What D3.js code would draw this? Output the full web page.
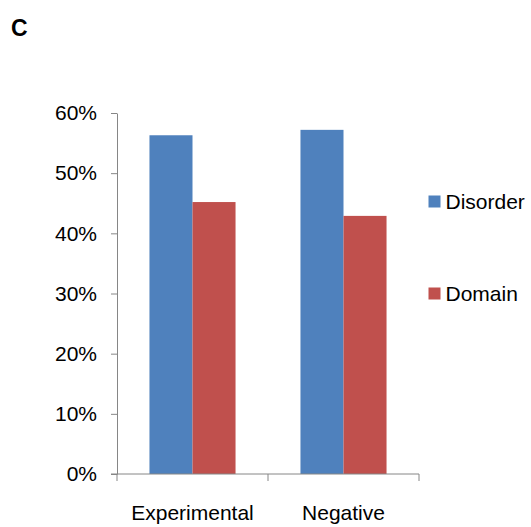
<!DOCTYPE html>
<html>
<head>
<meta charset="utf-8">
<script src="https://cdn.jsdelivr.net/npm/d3@7"></script>
<style>
  body { margin: 0; background: #fff; }
  svg { display: block; font-family: "Liberation Sans", Arial, sans-serif; }
</style>
</head>
<body>
<svg id="chart" width="531" height="527"></svg>
<script>
// Share of sequences per dataset falling in each class
const categories = ["Experimental", "Negative"];
const seriesNames = ["Disorder", "Domain"];
const disorderValues = [0.563, 0.572];
const domainValues = [0.452, 0.429];
const yTicks = [0, 0.1, 0.2, 0.3, 0.4, 0.5, 0.6];
const colors = ["#4F81BD", "#C0504D"];

const rows = categories.map((c, i) => ({
  category: c,
  values: [
    { series: seriesNames[0], value: disorderValues[i] },
    { series: seriesNames[1], value: domainValues[i] }
  ]
}));

const svg = d3.select("#chart");
const plotLeft = 117, plotRight = 419, plotTop = 113, plotBottom = 474;

const x0 = d3.scaleBand().domain(categories).range([plotLeft, plotRight]).padding(0);
const bw = x0.bandwidth();
const x1 = d3.scaleBand().domain(seriesNames)
  .range([bw * 0.215, bw * 0.785]).padding(0);
const y = d3.scaleLinear().domain([0, 0.6]).range([plotBottom, plotTop]);
const color = d3.scaleOrdinal().domain(seriesNames).range(colors);

// Panel letter
svg.append("text").attr("x", 11).attr("y", 36)
  .attr("font-size", 23).attr("font-weight", "bold").text("C");

// Bars
const groups = svg.append("g").selectAll("g").data(rows).join("g")
  .attr("transform", d => `translate(${x0(d.category)},0)`);
groups.selectAll("rect").data(d => d.values).join("rect")
  .attr("x", d => x1(d.series))
  .attr("width", x1.bandwidth())
  .attr("y", d => y(d.value))
  .attr("height", d => y(0) - y(d.value))
  .attr("fill", d => color(d.series));

// Y axis
const yAxis = svg.append("g").attr("transform", `translate(${plotLeft},0)`)
  .call(d3.axisLeft(y).tickValues(yTicks).tickFormat(d3.format(".0%"))
    .tickSize(6).tickSizeOuter(0).tickPadding(14));
yAxis.select(".domain").attr("stroke", "#868686");
yAxis.selectAll(".tick line").attr("stroke", "#868686");
yAxis.selectAll(".tick text").attr("font-size", 21).attr("fill", "#000")
  .attr("font-family", "'Liberation Sans', Arial, sans-serif");

// X axis with boundary tick marks between categories
const xAxisG = svg.append("g").attr("transform", `translate(0,${plotBottom})`);
xAxisG.append("line").attr("x1", plotLeft - 6).attr("x2", plotRight)
  .attr("stroke", "#868686");
const boundaries = [plotLeft, ...categories.map(c => x0(c) + bw)];
xAxisG.selectAll(".bt").data(boundaries).join("line")
  .attr("class", "bt")
  .attr("x1", d => d).attr("x2", d => d)
  .attr("y1", 0).attr("y2", 7)
  .attr("stroke", "#868686");
xAxisG.selectAll(".cl").data(categories).join("text")
  .attr("class", "cl")
  .attr("x", d => x0(d) + bw / 2)
  .attr("y", 46)
  .attr("text-anchor", "middle")
  .attr("font-size", 21)
  .text(d => d);

// Legend
const legendBaseline = [209, 301];
const legend = svg.append("g").selectAll("g").data(seriesNames).join("g")
  .attr("transform", (d, i) => `translate(428.5,${legendBaseline[i]})`);
legend.append("rect").attr("x", 0).attr("y", -13.5).attr("width", 12).attr("height", 12)
  .attr("fill", d => color(d));
legend.append("text").attr("x", 17).attr("y", 0)
  .attr("font-size", 21).text(d => d);
</script>
</body>
</html>
